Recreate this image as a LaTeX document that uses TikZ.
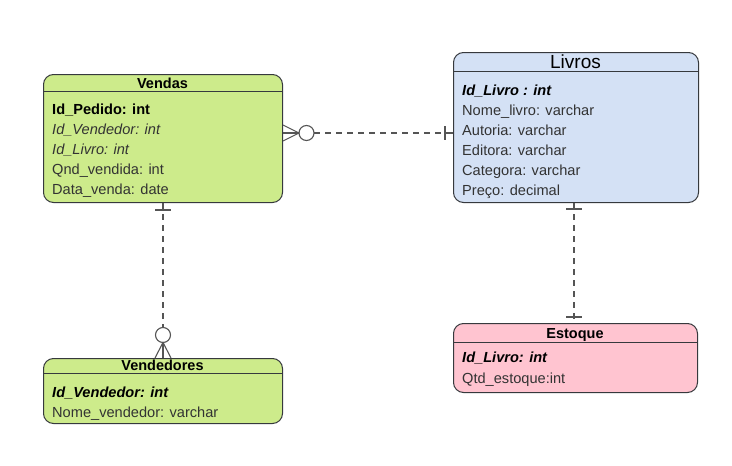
\documentclass[tikz,border=0pt]{standalone}
\usepackage{fontspec}
\setmainfont{Liberation Sans}
\usetikzlibrary{calc}
\definecolor{verde}{HTML}{CDEB8B}
\definecolor{azul}{HTML}{D4E1F5}
\definecolor{rosa}{HTML}{FFC4D0}
\definecolor{borda}{HTML}{36393D}
\definecolor{corpo}{HTML}{333333}
\definecolor{ligacao}{HTML}{555555}

\tikzset{
  entidade/.style={draw=borda, line width=1pt, rounded corners=10pt, anchor=north west, inner sep=0pt},
  titulo/.style={anchor=base, font=\fontsize{14.5}{16}\selectfont\bfseries, text=black, inner sep=0pt},
  campo/.style={anchor=base west, font=\fontsize{14.6}{16}\selectfont, text=corpo, inner sep=0pt},
  chave/.style={campo, font=\fontsize{14.6}{16}\selectfont\bfseries\itshape, text=black},
  rel/.style={draw=ligacao, line width=1.1pt, dash pattern=on 6pt off 5pt},
  marca/.style={draw=ligacao, line width=1.1pt},
}

\begin{document}
\begin{tikzpicture}[x=1pt, y=-1pt]
    \useasboundingbox (0,0) rectangle (732,466);

    % Draw the entities
    \node[entidade, fill=verde, minimum width=239pt, minimum height=128pt] (vendas) at (43,74) {};
    \node[entidade, fill=azul, minimum width=245pt, minimum height=150pt] (livros) at (453,52) {};
    \node[entidade, fill=verde, minimum width=239pt, minimum height=65pt] (vendedores) at (43,358) {};
    \node[entidade, fill=rosa, minimum width=244pt, minimum height=69pt] (estoque) at (453,323) {};

    % Header lines
    \draw[borda, line width=1pt] ($(vendas.north west)+(0,17)$) -- ($(vendas.north east)+(0,17)$);
    \draw[borda, line width=1pt] ($(livros.north west)+(0,19)$) -- ($(livros.north east)+(0,19)$);
    \draw[borda, line width=1pt] ($(vendedores.north west)+(0,15)$) -- ($(vendedores.north east)+(0,15)$);
    \draw[borda, line width=1pt] ($(estoque.north west)+(0,19)$) -- ($(estoque.north east)+(0,19)$);

    % Vendas
    \node[titulo] (tVendas) at (162.5,88) {Vendas};
    \node[campo, font=\fontsize{14.6}{16}\selectfont\bfseries, text=black] (vPedido) at (52,114) {Id\_Pedido: int};
    \node[campo, font=\fontsize{14.6}{16}\selectfont\itshape] (vVendedor) at (52,134) {Id\_Vendedor: int};
    \node[campo, font=\fontsize{14.6}{16}\selectfont\itshape] (vLivro) at (52,154) {Id\_Livro: int};
    \node[campo] (vQnd) at (52,174) {Qnd\_vendida: int};
    \node[campo] (vData) at (52,194) {Data\_venda: date};

    % Livros
    \node[titulo, font=\fontsize{19}{21}\selectfont] (tLivros) at (575.5,68) {Livros};
    \node[chave] (lId) at (462,95) {Id\_Livro : int};
    \node[campo] (lNome) at (462,115) {Nome\_livro: varchar};
    \node[campo] (lAutoria) at (462,135) {Autoria: varchar};
    \node[campo] (lEditora) at (462,155) {Editora: varchar};
    \node[campo] (lCategora) at (462,175) {Categora: varchar};
    \node[campo] (lPreco) at (462,195) {Preço: decimal};

    % Vendedores
    \node[titulo] (tVendedores) at (162.5,370) {Vendedores};
    \node[chave] (vdId) at (52,397) {Id\_Vendedor: int};
    \node[campo] (vdNome) at (52,417) {Nome\_vendedor: varchar};

    % Estoque
    \node[titulo] (tEstoque) at (575,338) {Estoque};
    \node[chave] (eId) at (462,362) {Id\_Livro: int};
    \node[campo] (eQtd) at (462,383) {Qtd\_estoque:int};

    % Vendas -- Livros
    \coordinate (vendasR) at (vendas.east |- 0,133);
    \coordinate (livrosL) at (livros.west |- 0,133);
    \draw[rel] ($(vendasR)+(31,0)$) -- ($(livrosL)+(-8,0)$);
    \draw[marca] ($(vendasR)+(0,-8)$) -- ($(vendasR)+(16,0)$) -- ($(vendasR)+(0,8)$);
    \draw[marca] (vendasR) -- ++(16,0);
    \draw[marca] ($(vendasR)+(23.5,0)$) circle[radius=7.5];
    \draw[marca] ($(livrosL)+(-8,-7)$) -- ($(livrosL)+(-8,7)$);
    \draw[marca] ($(livrosL)+(-8,0)$) -- (livrosL);

    % Vendas -- Vendedores
    \coordinate (vendasB) at (vendas.south);
    \coordinate (vendedoresT) at (vendedores.north);
    \draw[rel] (vendasB) -- ($(vendedoresT)+(0,-30.5)$);
    \draw[marca] ($(vendasB)+(-8,7)$) -- ($(vendasB)+(8,7)$);
    \draw[marca] ($(vendedoresT)+(0,-23)$) circle[radius=7.5];
    \draw[marca] ($(vendedoresT)+(-8,0)$) -- ($(vendedoresT)+(0,-15.5)$) -- ($(vendedoresT)+(8,0)$);
    \draw[marca] (vendedoresT) -- ++(0,-15.5);

    % Livros -- Estoque
    \coordinate (livrosB) at (livros.south -| 574,0);
    \coordinate (estoqueT) at (estoque.north -| 574,0);
    \draw[rel] (livrosB) -- (estoqueT);
    \draw[marca] ($(livrosB)+(-8,6)$) -- ($(livrosB)+(8,6)$);
    \draw[marca] ($(estoqueT)+(-8,-6)$) -- ($(estoqueT)+(8,-6)$);

\end{tikzpicture}
\end{document}
